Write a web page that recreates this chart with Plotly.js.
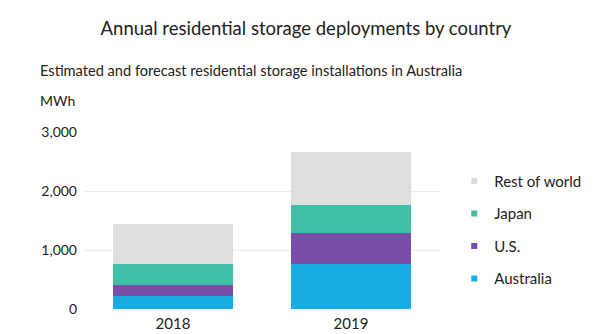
<!DOCTYPE html>
<html>
<head>
<meta charset="utf-8">
<script src="https://cdn.plot.ly/plotly-3.0.1.min.js"></script>
<style>html,body{margin:0;padding:0;background:#fff;}#chart{width:600px;height:334px;}</style>
</head>
<body>
<div id="chart"></div>
<script>
const years = ['2018', '2019'];
const seriesNames = ['Australia', 'U.S.', 'Japan', 'Rest of world'];
const australia = [225, 768];
const us = [187, 515];
const japan = [356, 485];
const restOfWorld = [667, 898];
const seriesColors = ['#17ace2', '#7a4da6', '#40bea6', '#dedede'];
const yTicks = [0, 1000, 2000, 3000];
const yTickText = ['0', '1,000', '2,000', '3,000'];

const values = [australia, us, japan, restOfWorld];
const font = 'Lato, "Open Sans", sans-serif';

const traces = [];
values.forEach((v, i) => {
  traces.push({
    type: 'bar', x: years, y: v, name: seriesNames[i],
    marker: {color: seriesColors[i], line: {width: 0}},
    showlegend: false, legendgroup: 'g' + i, hoverinfo: 'skip'
  });
});
values.forEach((v, i) => {
  traces.push({
    type: 'scatter', mode: 'markers', x: [null], y: [null], name: seriesNames[i],
    marker: {color: seriesColors[i], symbol: 'square', size: 6},
    showlegend: true, legendgroup: 'g' + i, legendrank: 1000 - i
  });
});

const layout = {
  width: 600, height: 334,
  margin: {l: 84, r: 160, t: 132, b: 25, autoexpand: false},
  paper_bgcolor: '#ffffff', plot_bgcolor: '#ffffff',
  font: {family: font, color: '#222', size: 14},
  barmode: 'stack', bargap: 0.33,
  title: {
    text: 'Annual residential storage deployments by country',
    font: {family: font, size: 18.5, color: '#222'},
    xref: 'container', x: 0.51, xanchor: 'center',
    yref: 'container', y: 0.915, yanchor: 'middle'
  },
  xaxis: {
    type: 'category', range: [-0.5, 1.5],
    showgrid: false, zeroline: false, showline: false, ticks: '',
    ticklabelstandoff: 4,
    tickfont: {family: font, size: 15, color: '#222'}
  },
  yaxis: {
    range: [0, 3000], tickvals: yTicks, ticktext: yTickText,
    showgrid: true, gridcolor: '#ececec', gridwidth: 1,
    zeroline: false, showline: false, ticks: '',
    ticklabelstandoff: 6,
    tickfont: {family: font, size: 14, color: '#222'}
  },
  legend: {
    x: 1.04, xanchor: 'left', y: 0.815, yanchor: 'top',
    traceorder: 'grouped', tracegroupgap: 10,
    font: {family: font, size: 15, color: '#222'},
    itemwidth: 30
  },
  annotations: [
    {text: 'Estimated and forecast residential storage installations in Australia',
     xref: 'paper', yref: 'paper', x: -0.13, y: 1.35, xanchor: 'left', yanchor: 'middle',
     showarrow: false, font: {family: font, size: 14.6, color: '#222'}},
    {text: 'MWh', xref: 'paper', yref: 'paper', x: -0.128, y: 1.18, xanchor: 'left', yanchor: 'middle',
     showarrow: false, font: {family: font, size: 14, color: '#222'}}
  ]
};

Plotly.newPlot('chart', traces, layout, {displayModeBar: false, staticPlot: true});
</script>
</body>
</html>
